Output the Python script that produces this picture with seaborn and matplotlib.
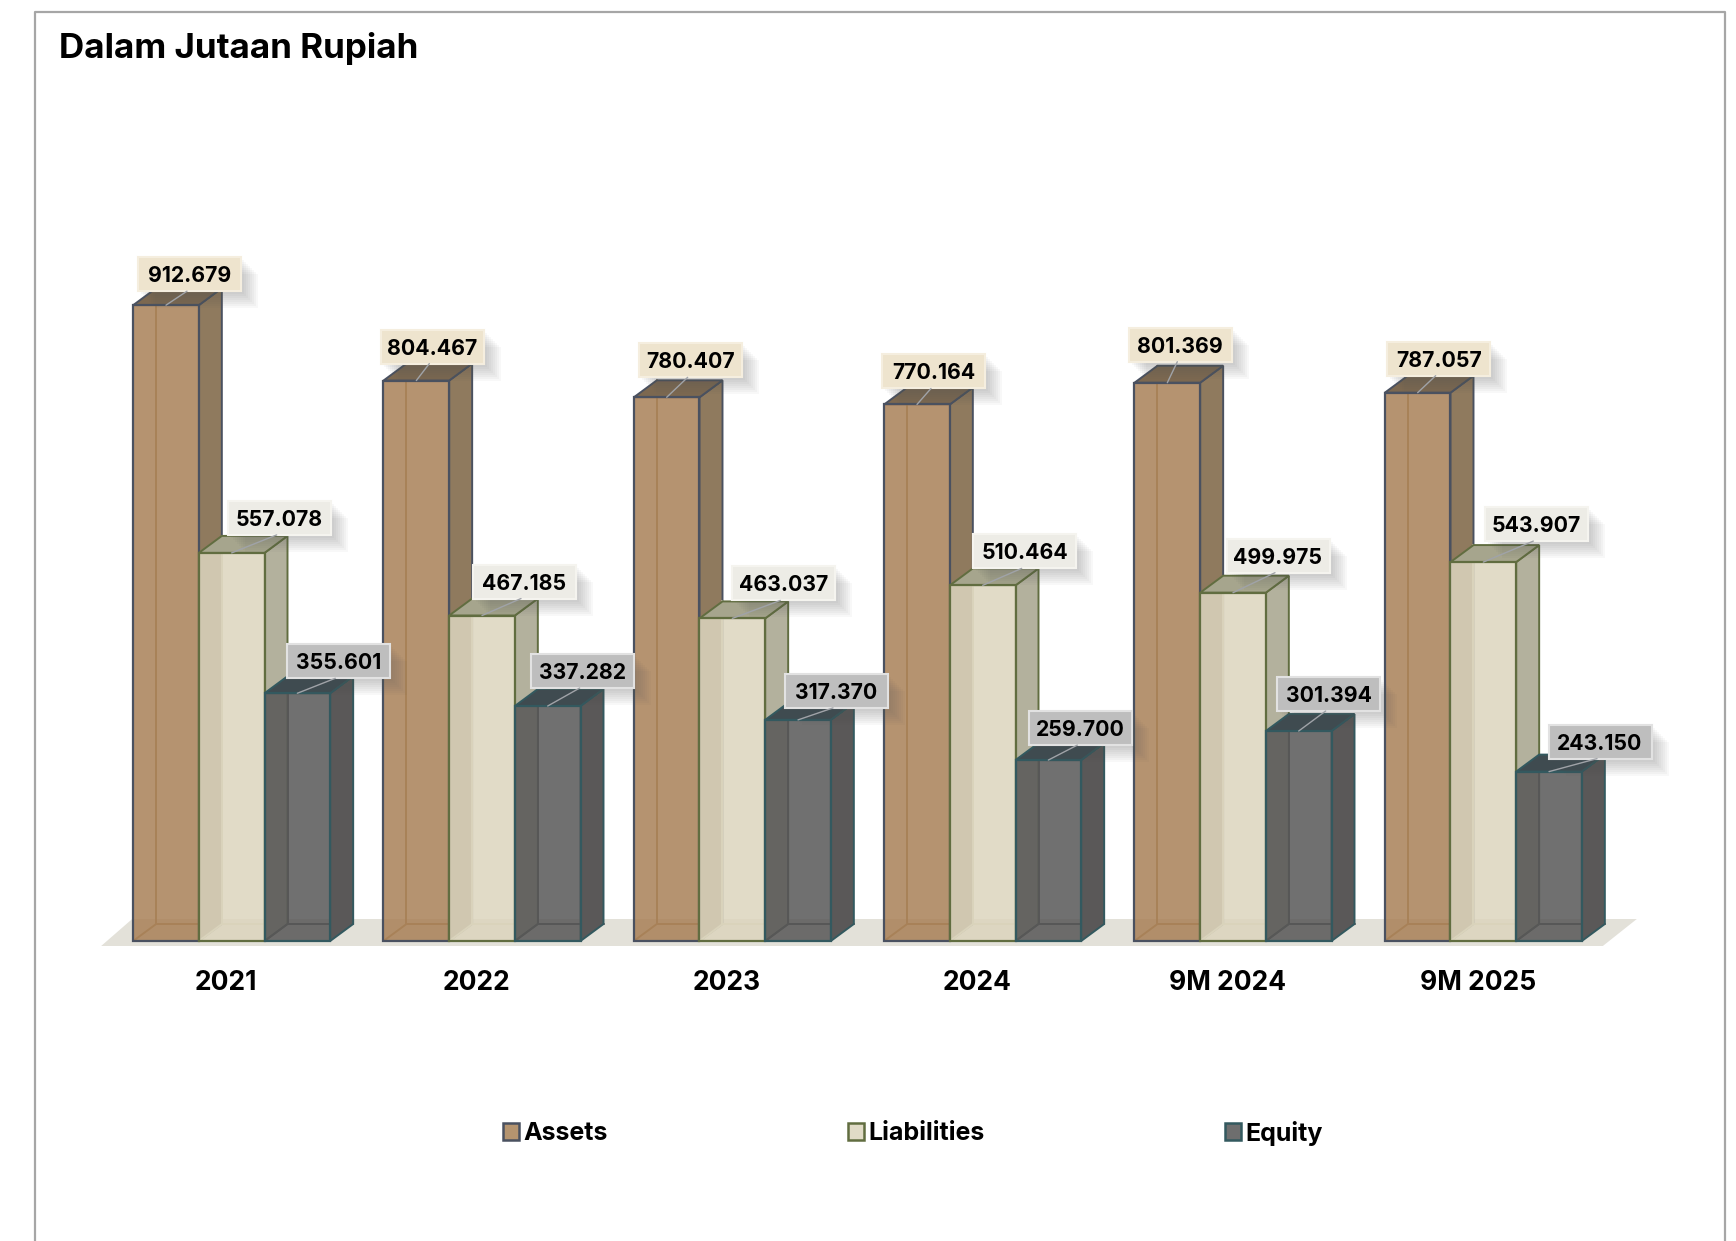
import matplotlib
matplotlib.use("Agg")
import matplotlib.pyplot as plt
import numpy as np
import pandas as pd
import seaborn as sns
from matplotlib.lines import Line2D
from matplotlib.patches import Patch, Polygon, Rectangle
from matplotlib.transforms import IdentityTransform, ScaledTranslation

periods = ["2021", "2022", "2023", "2024", "9M 2024", "9M 2025"]
series = ["Assets", "Liabilities", "Equity"]
assets = [912.679, 804.467, 780.407, 770.164, 801.369, 787.057]
liabilities = [557.078, 467.185, 463.037, 510.464, 499.975, 543.907]
equity = [355.601, 337.282, 317.370, 259.700, 301.394, 243.150]
# label centre relative to the centre of each bar's top edge, pixels
label_dx = [[24, 16, 24, 17, 13, 21], [48, 42, 51, 42, 45, 53], [41, 35, 38, 32, 30, 51]]
label_dy = [[31, 34, 37, 33, 38, 34], [35, 34, 35, 34, 37, 38], [32, 35, 29, 32, 37, 30]]

W, H = 1736, 1241
FONT = "Inter"
plt.rcParams["font.family"] = [FONT, "DejaVu Sans"]
sns.set_theme(style="white", rc={"axes.facecolor": "none"})
plt.rcParams["font.family"] = [FONT, "DejaVu Sans"]

front = ["#A98158", "#DCD5BE", "#585858"]
legend_fc = ["#B5946F", "#E1DBC7", "#6E6E6E"]
side = ["#8F7A5E", "#B3B19D", "#5A5858"]
top = ["#7C6850", "#A6A58D", "#3F4B50"]
edge = ["#4A5160", "#616D40", "#33595F"]
inner = ["#A38558", "#CFCBAF", "#525252"]
box_fc = ["#EEE4CE", "#EDECE6", "#BEBEBE"]
box_ec = ["#F5EEDF", "#F5F4EF", "#E2E2E2"]
DX, DY = 23, 17

fig = plt.figure(figsize=(W / 100, H / 100), dpi=100, facecolor="white")
ax = fig.add_axes([106.5 / W, 300 / H, 1502 / W, 836 / H])

df = pd.DataFrame({"period": periods, "Assets": assets, "Liabilities": liabilities, "Equity": equity})
long = df.melt(id_vars="period", var_name="series", value_name="value")
sns.barplot(data=long, x="period", y="value", hue="series", order=periods, hue_order=series,
            palette=front, width=0.787, gap=0, saturation=1, legend=False, ax=ax)
ax.set_xlim(-0.5, 5.5)
ax.set_ylim(0, 1200)
ax.set_xlabel("")
ax.set_ylabel("")
ax.set_yticks([])
sns.despine(ax=ax, left=True, bottom=True)
ax.tick_params(axis="x", length=0, pad=21)
for lab in ax.get_xticklabels():
    lab.set_fontsize(19)
    lab.set_fontweight("bold")
    lab.set_color("black")
    lab.set_transform(lab.get_transform() + ScaledTranslation(-5.5 / 100, 0, fig.dpi_scale_trans))

I = IdentityTransform()
fig.canvas.draw()
to_px = ax.transData.transform


def bar_px(bar):
    (x0, y0) = to_px((bar.get_x(), 0))
    (x1, y1) = to_px((bar.get_x() + bar.get_width(), bar.get_height()))
    return x0, y0, x1, y1


# floor, spanning the bars
all_bars = [b for c in ax.containers for b in c]
x_lo = min(bar_px(b)[0] for b in all_bars)
x_hi = max(bar_px(b)[2] for b in all_bars)
yb = bar_px(all_bars[0])[1]
ax.add_patch(Polygon([(x_lo - 32, yb - 5), (x_hi + 21, yb - 5), (x_hi + 55, yb + 22), (x_lo - 1, yb + 22)],
                     closed=True, transform=I, fc="#E3E1D9", ec="none", zorder=1, clip_on=False))

for s, cont in enumerate(ax.containers):
    z = 3 + s * 3
    for k, bar in enumerate(cont):
        x0, y0, x1, y1 = bar_px(bar)
        # hidden back lines
        for seg in [[(x0 + DX, y0 + DY), (x0 + DX, y1 + DY)],
                    [(x0 + DX, y0 + DY), (x1 + DX, y0 + DY)],
                    [(x0, y0), (x0 + DX, y0 + DY)]]:
            ax.add_line(Line2D(*zip(*seg), transform=I, color=inner[s], lw=1.4, zorder=z, clip_on=False))
        ax.add_patch(Polygon([(x1, y0), (x1 + DX, y0 + DY), (x1 + DX, y1 + DY), (x1, y1)], closed=True,
                             transform=I, fc=side[s], ec=edge[s], lw=1.4, zorder=z, clip_on=False))
        ax.add_patch(Polygon([(x0, y1), (x1, y1), (x1 + DX, y1 + DY), (x0 + DX, y1 + DY)], closed=True,
                             transform=I, fc=top[s], ec=edge[s], lw=1.4, zorder=z, clip_on=False))
        bar.set_alpha(0.86)
        bar.set_edgecolor("none")
        bar.set_zorder(z + 1)
        ax.add_patch(Rectangle((x0, y0), x1 - x0, y1 - y0, transform=I, fc="none", ec=edge[s], lw=1.6,
                               zorder=z + 2, clip_on=False))

# value labels
BW, BH = 103, 34
for s, cont in enumerate(ax.containers):
    for k, bar in enumerate(cont):
        x0, y0, x1, y1 = bar_px(bar)
        cx = (x0 + x1) / 2
        lx, ly = cx + label_dx[s][k], y1 + label_dy[s][k]
        zl = 20
        for off in range(3, 19, 2):
            ax.add_patch(Rectangle((lx - BW / 2 + off, ly - BH / 2 - off), BW, BH, transform=I, fc="#555555",
                                   ec="none", alpha=0.04, zorder=zl, clip_on=False))
        ax.add_patch(Rectangle((lx - BW / 2, ly - BH / 2), BW, BH, transform=I, fc=box_fc[s], ec=box_ec[s],
                               lw=1.5, zorder=zl + 1, clip_on=False))
        ax.add_line(Line2D([lx - 3, cx], [ly - BH / 2, y1], transform=I, color="#A0A3A8", lw=1.0,
                           zorder=zl + 1, clip_on=False))
        value = [assets, liabilities, equity][s][k]
        ax.text(lx, ly, f"{value:.3f}", transform=I, ha="center", va="center_baseline", fontsize=15.3,
                fontweight="bold", color="black", zorder=zl + 2, clip_on=False)

# legend
handles = [Patch(fc=legend_fc[i], ec=edge[i], lw=1.8, label=series[i]) for i in range(3)]
fig.legend(handles=handles, loc="center", bbox_to_anchor=(913 / W, 1 - 1133 / H), ncol=3, frameon=False,
           prop={"size": 18, "weight": "bold"}, handlelength=0.64, handleheight=0.64, handletextpad=0.18,
           columnspacing=9.6, labelcolor="black", borderpad=0, borderaxespad=0)

# title and frame
fig.text(59 / W, 1 - 45 / H, "Dalam Jutaan Rupiah", fontsize=25.2, fontweight="bold", color="black",
         ha="left", va="center_baseline")
fig.add_artist(Line2D([35 / W, 35 / W, 1725 / W, 1725 / W], [0, 1 - 12 / H, 1 - 12 / H, 0],
                      transform=fig.transFigure, color="#A6A6A6", lw=1.6))

fig.savefig("out.png", dpi=100, facecolor="white")
